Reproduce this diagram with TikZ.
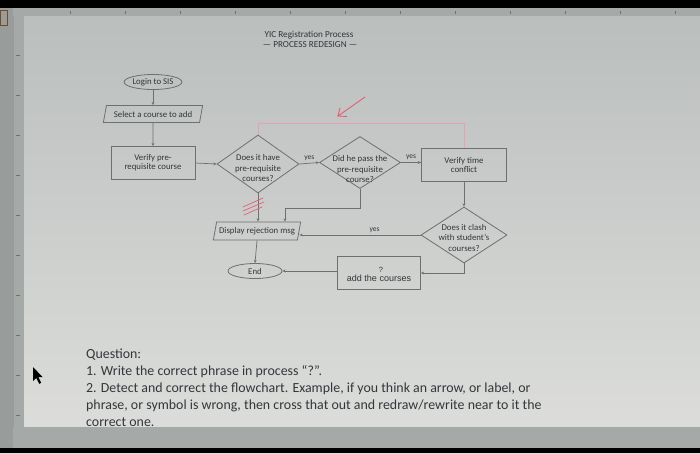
\documentclass[tikz,border=0pt]{standalone}
\usepackage{fontspec}
\setmainfont{Carlito}
\newfontfamily\arialf{Liberation Sans}
\usetikzlibrary{shapes.geometric,arrows.meta}
\definecolor{ink}{HTML}{33363A}
\definecolor{ln}{HTML}{6C706E}
\definecolor{redpen}{HTML}{E25F78}
\definecolor{pinkline}{HTML}{E8A2AD}
\definecolor{pagetop}{HTML}{B9BDBB}
\definecolor{pagebot}{HTML}{DEDFDD}
\definecolor{frame}{HTML}{A5A9A7}
\begin{document}
\begin{tikzpicture}[x=1pt,y=-1pt,
  every node/.style={text=ink},
  dfont/.style={font=\fontsize{8.8}{9.1}\selectfont},
  proc/.style={dfont, draw=ln, line width=0.8pt, rectangle, align=center, inner sep=1pt},
  term/.style={dfont, draw=ln, line width=0.8pt, ellipse, inner sep=0pt},
  io/.style={dfont, draw=ln, line width=0.8pt, trapezium, trapezium left angle=72,
    trapezium right angle=108, trapezium stretches=true, inner sep=1pt},
  dec/.style={draw=ln, line width=0.8pt, diamond, inner sep=0pt},
  dectext/.style={font=\fontsize{8.8}{10.5}\selectfont, align=center, inner sep=0pt},
  conn/.style={draw=ln, line width=0.7pt, -{Stealth[length=3.2pt,width=2.8pt]}},
  lbl/.style={font=\fontsize{7.5}{7.5}\selectfont, inner sep=1pt},
  redline/.style={draw=pinkline, line width=0.8pt},
  redstroke/.style={draw=redpen, line width=0.9pt, line cap=round}]
\useasboundingbox (0,0) rectangle (700,453);
% screen background
\shade[top color=pagetop, bottom color=pagebot] (0,0) rectangle (700,453);
% top black bar and ruler
\fill[black] (0,0) rectangle (700,8);
\fill[frame] (0,8) rectangle (700,16);
\foreach \tx in {70,125,180,235,290,345,400,455,510,565,620,675}
  \draw[ln, line width=0.5pt] (\tx,11) -- (\tx,14);
% left side bars
\fill[frame!92!black] (0,8) rectangle (13,448);
\fill[frame] (13,16) rectangle (23,448);
\draw[ln!70, line width=0.5pt] (13,16) -- (13,448);
\draw[ln!60, line width=0.5pt] (23,16) -- (23,427);
\foreach \ty in {55,95,135,175,215,255,295,335,375,415}
  \draw[ln, line width=0.5pt] (16,\ty) -- (20,\ty);
\draw[draw=brown!60!black, line width=0.8pt] (0,10) rectangle (7,25);
% bottom band
\fill[frame] (13,427) rectangle (700,448);
\fill[black] (0,448) rectangle (700,453);
\node[font=\fontsize{5}{5}\selectfont, text=ln!60] (pg) at (12,442) {1/1};

% title
\node[font=\fontsize{9.2}{9.5}\selectfont] (t1) at (309,35) {YIC Registration Process};
\node[font=\fontsize{9.2}{9.5}\selectfont] (t2) at (310,45) {— PROCESS REDESIGN —};

% flowchart nodes
\node[term, minimum width=52pt, minimum height=15pt] (login) at (153,82) {Login to SIS};
\node[io, minimum width=100pt, minimum height=17pt] (select) at (153,114) {Select a course to add};
\node[proc, minimum width=84pt, minimum height=33pt] (verify) at (153,163) {Verify pre-\\requisite course};
\node[dec, minimum width=82pt, minimum height=58pt] (d1) at (258,164) {};
\node[dectext] (d1t) at (258,168) {Does it have\\pre-requisite\\courses?};
\node[dec, minimum width=81pt, minimum height=52pt] (d2) at (360,162.5) {};
\node[dectext] (d2t) at (360,169) {Did he pass the\\pre-requisite\\course?};
\node[proc, minimum width=85pt, minimum height=33pt] (vtc) at (464,165) {Verify time\\conflict};
\node[dec, minimum width=86pt, minimum height=56pt] (clash) at (464,235) {};
\node[dectext] (clasht) at (464,237.5) {Does it clash\\with student's\\courses?};
\node[io, minimum width=88pt, minimum height=18pt] (disp) at (257,231) {Display rejection msg};
\node[term, minimum width=54pt, minimum height=15pt] (end) at (255,271) {End};
\node[proc, minimum width=83pt, minimum height=33pt, font=\arialf\fontsize{9}{9}\selectfont, text depth=0pt, text height=6pt] (add) at (379,273) {\raisebox{-5pt}{add the courses}};
\node[font=\arialf\fontsize{7.5}{7.5}\selectfont, inner sep=0pt] (qm) at (381,270) {?};

% connectors
\draw[conn] (login) -- (select);
\draw[conn] (select.south) -- (verify.north);
\draw[conn] (verify.east) -- (d1.west);
\draw[conn] (d1.east) -- node[lbl, above=1pt] (y1) {yes} (d2.west);
\draw[conn] (d2.east) -- node[lbl, above=1pt] (y2) {yes} (d2.east -| vtc.west);
\draw[conn] (vtc.south) -- (clash.north);
\draw[conn] (clash.west) -- node[lbl, above=1pt, pos=0.38] (y3) {yes} (clash.west -| disp.east);
\draw[conn] (d1.south) -- (d1.south |- disp.north);
\draw[conn] (d2.south) -- ++(0,19) -| ([xshift=28pt]disp.north);
\draw[conn] (disp.south) -- (end.north);
\draw[conn] (clash.south) |- (add.east);
\draw[conn] (add.west |- end.east) -- (end.east);

% red pen corrections
\draw[redline] (d1.north) -- (258,123) -| (vtc.north);
\coordinate (ra) at (365,97);
\coordinate (rb) at (338,116);
\draw[redstroke] (ra) -- (rb);
\draw[redstroke] (rb) -- ++(9,0.5);
\draw[redstroke] (rb) -- ++(2,-8);
\draw[redstroke, line width=0.7pt] (243,207) -- (263,198);
\draw[redstroke, line width=0.7pt] (243,211) -- (264,202);
\draw[redstroke, line width=0.7pt] (244,215) -- (262,207);

% mouse pointer
\fill[black] (33,367) -- (33,381) -- (36.3,378) -- (39.2,383.8) -- (41.2,382.8) -- (38.3,377) -- (42.5,377) -- cycle;

% question text
\node[anchor=north west, align=left, inner sep=0pt, text=ink,
  font=\fontsize{13.9}{17.1}\selectfont] (q) at (86,348.5)
  {Question:\\
   1. Write the correct phrase in process “?”.\\
   2. Detect and correct the flowchart. Example, if you think an arrow, or label, or\\
   phrase, or symbol is wrong, then cross that out and redraw/rewrite near to it the\\
   correct one.};
\end{tikzpicture}
\end{document}
